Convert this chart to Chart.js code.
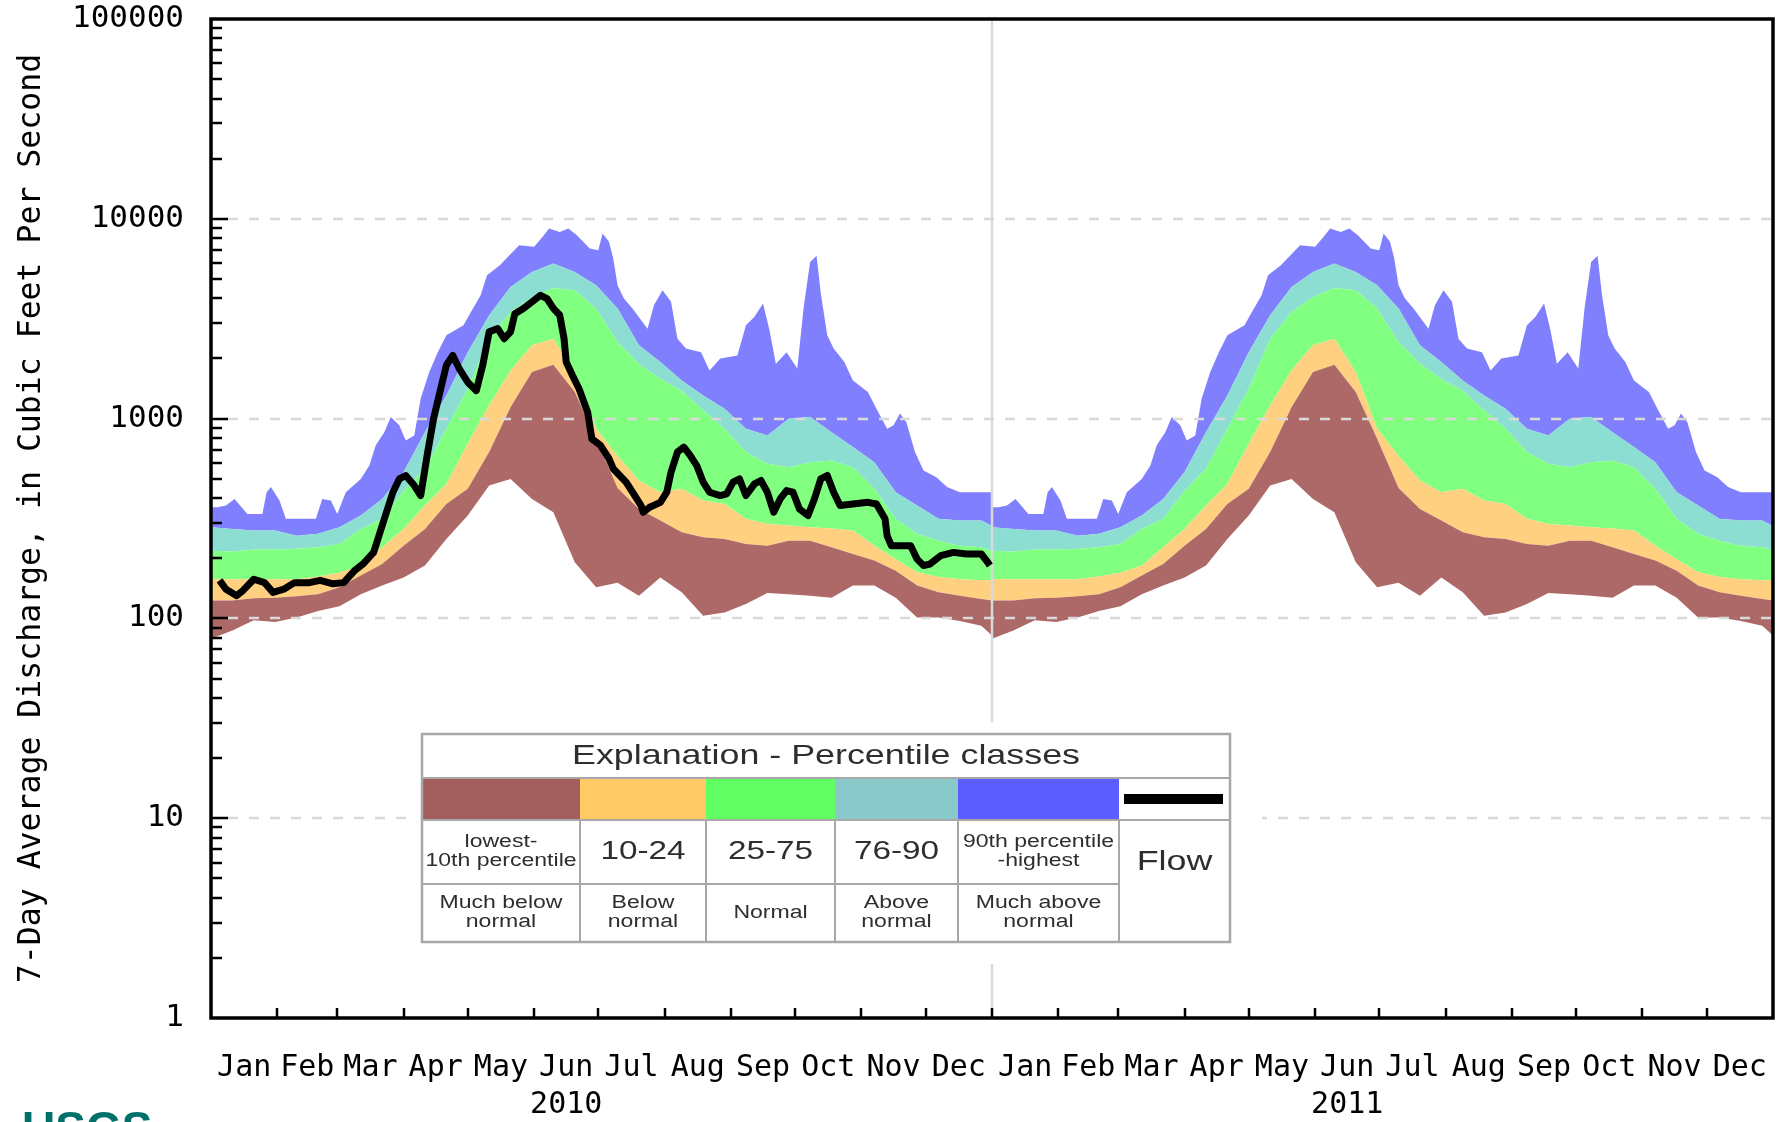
<!DOCTYPE html>
<html>
<head>
<meta charset="utf-8">
<title>7-Day Average Discharge</title>
<script src="https://cdn.jsdelivr.net/npm/chart.js@4.4.1/dist/chart.umd.min.js"></script>
<style>
html, body { margin: 0; padding: 0; background: #fff; }
#wrap { position: relative; width: 1783px; height: 1122px; }
</style>
</head>
<body>
<div id="wrap"><canvas id="myChart"></canvas></div>
<script>
// day of year for the percentile samples (same daily statistics repeat each year)
var bandDays = [0, 10, 20, 30, 40, 50, 60, 70, 80, 90, 100, 110, 120, 130, 140, 150, 160, 170, 180, 190,
    200, 210, 220, 230, 240, 250, 260, 270, 280, 290, 300, 310, 320, 330, 340, 350, 360, 365];
var minFlow = [79, 87, 98, 96, 101, 109, 115, 132, 146, 160, 184, 250, 327, 462, 499, 396, 340, 191, 143, 151,
    130, 160, 135, 103, 107, 118, 134, 132, 130, 127, 146, 146, 127, 101, 101, 97, 92, 82];
var p10 = [123, 123, 126, 127, 129, 132, 143, 164, 187, 231, 280, 374, 445, 680, 1140, 1710, 1860, 1360, 792, 450,
    353, 309, 270, 255, 250, 236, 231, 245, 245, 227, 210, 195, 173, 146, 135, 130, 125, 123];
var p25 = [157, 157, 157, 157, 157, 162, 169, 184, 227, 280, 367, 471, 748, 1165, 1740, 2330, 2510, 1710, 890, 650,
    490, 428, 445, 389, 374, 315, 297, 292, 286, 282, 275, 231, 198, 170, 161, 157, 155, 155];
var p75 = [218, 216, 221, 221, 223, 227, 236, 280, 315, 436, 561, 890, 1410, 2510, 3420, 4060, 4510, 4390, 3560, 2420,
    1880, 1580, 1380, 1100, 890, 680, 594, 571, 605, 617, 571, 445, 315, 265, 245, 231, 227, 218];
var p90 = [286, 280, 275, 275, 259, 265, 286, 327, 396, 540, 855, 1306, 2150, 3290, 4560, 5420, 5970, 5420, 4650, 3560,
    2330, 1920, 1550, 1306, 1120, 890, 824, 998, 1020, 855, 720, 605, 428, 367, 315, 309, 309, 290];
// the highest line is spiky, so it has its own finer day list
var maxDays = [0, 3, 7, 11, 17, 24, 26, 28, 32, 35, 42, 49, 52, 56, 59, 63, 70, 74, 77, 81,
    84, 88, 91, 95, 98, 102, 106, 110, 118, 121, 126, 129, 135, 138, 144, 151, 155, 158, 163, 167,
    171, 177, 181, 183, 186, 188, 190, 193, 197, 204, 207, 211, 215, 218, 222, 229, 233, 238, 246, 250,
    254, 258, 261, 264, 269, 274, 277, 280, 283, 285, 288, 291, 296, 300, 307, 311, 316, 319, 322, 325,
    329, 333, 339, 344, 350, 365];
var maxFlow = [360, 360, 367, 396, 333, 333, 428, 454, 389, 315, 315, 315, 396, 389, 333, 428, 499, 582, 735, 855,
    1020, 925, 778, 824, 1260, 1710, 2150, 2610, 2930, 3350, 4140, 5220, 5860, 6330, 7380, 7240, 8130, 8950, 8600, 8950,
    8280, 7100, 6960, 8440, 7680, 6330, 4650, 3990, 3560, 2820, 3690, 4390, 3840, 2510, 2240, 2150, 1740, 2000, 2070, 2930,
    3230, 3770, 2770, 1880, 2150, 1780, 3620, 6080, 6530, 4230, 2610, 2240, 1920, 1550, 1360, 1120, 890, 925, 1060, 960,
    680, 550, 509, 454, 428, 428];
// 2010 flow, days from Jan 1 2010
var flowDays = [4, 7, 12, 15, 20, 25, 29, 34, 39, 46, 51, 57, 62, 67, 71, 76, 79, 82, 85, 88,
    91, 95, 98, 101, 104, 107, 110, 113, 116, 120, 124, 127, 130, 134, 137, 140, 142, 146, 151, 154,
    157, 160, 163, 165, 166, 169, 172, 176, 178, 182, 186, 188, 191, 194, 197, 201, 202, 205, 210, 213,
    215, 218, 221, 224, 227, 230, 233, 238, 241, 244, 247, 250, 254, 257, 260, 263, 266, 269, 272, 275,
    279, 282, 285, 288, 291, 294, 300, 307, 311, 315, 316, 318, 322, 327, 330, 333, 336, 341, 347, 353,
    360, 363, 364];
var flowValues = [155, 140, 130, 138, 157, 151, 135, 140, 151, 151, 155, 149, 151, 173, 187, 214, 270, 340, 428, 499,
    519, 462, 412, 653, 998, 1360, 1850, 2070, 1780, 1520, 1380, 1850, 2720, 2820, 2510, 2720, 3350, 3560, 3910, 4140,
    3990, 3560, 3290, 2510, 1920, 1640, 1410, 1080, 792, 735, 630, 561, 519, 481, 428, 367, 340, 360, 381, 428,
    540, 680, 720, 653, 582, 481, 428, 412, 420, 481, 499, 412, 471, 490, 428, 340, 396, 436, 428, 353,
    327, 396, 499, 519, 428, 367, 374, 381, 374, 315, 259, 231, 231, 231, 198, 184, 187, 206, 214, 210,
    210, 191, 184];

var monthNames = ["Jan", "Feb", "Mar", "Apr", "May", "Jun", "Jul", "Aug", "Sep", "Oct", "Nov", "Dec"];
var yearLabels = ["2010", "2011"];
var monthStartDays = [0, 31, 59, 90, 120, 151, 181, 212, 243, 273, 304, 334,
    365, 396, 424, 455, 485, 516, 546, 577, 608, 638, 669, 699, 730];
var yTickValues = [1, 10, 100, 1000, 10000, 100000];
var yTickLabels = ["1", "10", "100", "1000", "10000", "100000"];
var yTitle = "7-Day Average Discharge, in Cubic Feet Per Second";

var bandColors = ["#ad6868", "#ffd080", "#80ff80", "#8cded2", "#8080ff"];
var legendColors = ["#a35e5e", "#ffc966", "#62ff62", "#8ac9c9", "#5c5cff"];
var legendTop = ["lowest-|10th percentile", "10-24", "25-75", "76-90", "90th percentile|-highest"];
var legendBottom = ["Much below|normal", "Below|normal", "Normal", "Above|normal", "Much above|normal"];

var monoFont = '"DejaVu Sans Mono", "Liberation Mono", monospace';
var sansFont = '"Liberation Sans", Arial, sans-serif';

function twoYears(days, values) {
    var pts = [];
    [0, 365].forEach(function (shift) {
        days.forEach(function (d, i) { pts.push({ x: d + shift, y: values[i] }); });
    });
    return pts;
}

var monthMids = [];
var xTickLabels = [];
for (var i = 0; i < 24; i++) {
    monthMids.push((monthStartDays[i] + monthStartDays[i + 1]) / 2);
    var name = monthNames[i % 12];
    xTickLabels.push(i % 12 === 5 ? [name, yearLabels[Math.floor(i / 12)]] : name);
}

function bandSet(values, color, fill, days) {
    return {
        data: twoYears(days || bandDays, values),
        backgroundColor: color,
        borderColor: "rgba(0,0,0,0)",
        borderWidth: 0,
        pointRadius: 0,
        fill: fill,
        tension: 0
    };
}

function stretchText(ctx, text, cx, cy, size, maxW) {
    ctx.save();
    ctx.translate(cx, cy);
    ctx.scale(1.28, 1);
    ctx.font = size + "px " + sansFont;
    ctx.textAlign = "center";
    ctx.textBaseline = "middle";
    ctx.fillText(text, 0, 0, maxW / 1.28);
    ctx.restore();
}

function drawLegend(ctx) {
    var cols = [422, 580, 706, 835, 958, 1119, 1230];
    var rows = [734, 778, 820, 884, 942];
    ctx.save();
    ctx.fillStyle = "#fff";
    ctx.fillRect(409, 722, 853, 242);
    for (var i = 0; i < 5; i++) {
        ctx.fillStyle = legendColors[i];
        ctx.fillRect(cols[i], rows[1], cols[i + 1] - cols[i], rows[2] - rows[1]);
    }
    ctx.strokeStyle = "#000";
    ctx.lineWidth = 10;
    ctx.beginPath();
    ctx.moveTo(1124, 799);
    ctx.lineTo(1223, 799);
    ctx.stroke();

    ctx.strokeStyle = "#a8a8a8";
    ctx.lineWidth = 2;
    ctx.beginPath();
    ctx.moveTo(cols[0], rows[1]); ctx.lineTo(cols[6], rows[1]);
    ctx.moveTo(cols[0], rows[2]); ctx.lineTo(cols[6], rows[2]);
    ctx.moveTo(cols[0], rows[3]); ctx.lineTo(cols[5], rows[3]);
    for (var c = 1; c < 6; c++) {
        ctx.moveTo(cols[c], rows[2]); ctx.lineTo(cols[c], rows[4]);
    }
    ctx.stroke();
    ctx.lineWidth = 2.5;
    ctx.strokeRect(cols[0], rows[0], cols[6] - cols[0], rows[4] - rows[0]);

    ctx.fillStyle = "#2e2e2e";
    stretchText(ctx, "Explanation - Percentile classes", 826, 756, 28, 760);
    for (var k = 0; k < 5; k++) {
        var cx = (cols[k] + cols[k + 1]) / 2;
        var w = cols[k + 1] - cols[k] - 4;
        var top = legendTop[k].split("|");
        if (top.length === 1) {
            stretchText(ctx, top[0], cx, 852, 26, w);
        } else {
            stretchText(ctx, top[0], cx, 842, 18, w);
            stretchText(ctx, top[1], cx, 861, 18, w);
        }
        var bot = legendBottom[k].split("|");
        if (bot.length === 1) {
            stretchText(ctx, bot[0], cx, 913, 18, w);
        } else {
            stretchText(ctx, bot[0], cx, 903, 18, w);
            stretchText(ctx, bot[1], cx, 922, 18, w);
        }
    }
    stretchText(ctx, "Flow", (cols[5] + cols[6]) / 2, 862, 28, 106);
    ctx.restore();
}

var overlay = {
    id: "overlay",
    beforeDatasetDraw: function (chart, args) {
        if (args.index !== 0) return;
        var ctx = chart.ctx, area = chart.chartArea;
        var xs = chart.scales.x, ys = chart.scales.y;
        ctx.save();
        ctx.strokeStyle = "#d9d9d9";
        ctx.lineWidth = 2.5;
        ctx.setLineDash([10, 11]);
        yTickValues.slice(1, -1).forEach(function (v) {
            var py = Math.round(ys.getPixelForValue(v));
            ctx.beginPath();
            ctx.moveTo(area.left + 17, py);
            ctx.lineTo(area.right, py);
            ctx.stroke();
        });
        ctx.setLineDash([]);
        var px = Math.round(xs.getPixelForValue(monthStartDays[12]));
        ctx.beginPath();
        ctx.moveTo(px, area.top);
        ctx.lineTo(px, area.bottom);
        ctx.stroke();
        ctx.restore();
    },
    afterDraw: function (chart) {
        var ctx = chart.ctx, area = chart.chartArea;
        var xs = chart.scales.x, ys = chart.scales.y;
        ctx.save();
        ctx.strokeStyle = "#000";
        ctx.lineWidth = 2.5;
        ctx.beginPath();
        // inward minor/major ticks on the value axis
        yTickValues.slice(0, -1).forEach(function (dec, j) {
            for (var m = 1; m < 10; m++) {
                if (m === 1 && j === 0) continue;
                var py = Math.round(ys.getPixelForValue(dec * m));
                ctx.moveTo(area.left, py);
                ctx.lineTo(area.left + (m === 1 ? 17 : 11), py);
            }
        });
        // inward month ticks
        monthStartDays.slice(1, -1).forEach(function (d) {
            var px = Math.round(xs.getPixelForValue(d));
            ctx.moveTo(px, area.bottom);
            ctx.lineTo(px, area.bottom - 10);
        });
        ctx.stroke();
        ctx.lineWidth = 3.5;
        ctx.strokeRect(area.left, area.top, area.right - area.left, area.bottom - area.top);

        ctx.fillStyle = "#000";
        ctx.font = "31.5px " + monoFont;
        ctx.textAlign = "center";
        ctx.textBaseline = "middle";
        ctx.translate(32, (area.top + area.bottom) / 2);
        ctx.rotate(-Math.PI / 2);
        ctx.fillText(yTitle, 0, 0);
        ctx.restore();

        drawLegend(ctx);

        ctx.save();
        ctx.fillStyle = "#00706b";
        ctx.font = "bold 46px " + sansFont;
        ctx.textAlign = "left";
        ctx.textBaseline = "alphabetic";
        ctx.fillText("USGS", 22, 1144);
        ctx.restore();
    }
};

var ctx = document.getElementById("myChart").getContext("2d");
var chart = new Chart(ctx, {
    type: "line",
    data: {
        datasets: [
            {
                data: flowDays.map(function (d, i) { return { x: d, y: flowValues[i] }; }),
                borderColor: "#000",
                borderWidth: 7,
                pointRadius: 0,
                fill: false,
                tension: 0,
                borderJoinStyle: "round"
            },
            bandSet(minFlow, "rgba(0,0,0,0)", false),
            bandSet(p10, bandColors[0], "-1"),
            bandSet(p25, bandColors[1], "-1"),
            bandSet(p75, bandColors[2], "-1"),
            bandSet(p90, bandColors[3], "-1"),
            bandSet(maxFlow, bandColors[4], "-1", maxDays)
        ]
    },
    options: {
        animation: false,
        responsive: true,
        maintainAspectRatio: false,
        layout: { padding: { left: 0, top: 19, right: 10, bottom: 0 } },
        plugins: {
            legend: { display: false },
            tooltip: { enabled: false },
            title: { display: false }
        },
        scales: {
            x: {
                type: "linear",
                min: 0,
                max: 730,
                grid: { display: false, drawTicks: false },
                border: { display: false },
                afterBuildTicks: function (scale) {
                    scale.ticks = monthMids.map(function (v) { return { value: v }; });
                },
                afterFit: function (scale) {
                    scale.height = 104;
                    scale.paddingLeft = 0;
                    scale.paddingRight = 0;
                },
                ticks: {
                    autoSkip: false,
                    maxRotation: 0,
                    minRotation: 0,
                    padding: 31,
                    color: "#000",
                    font: { family: monoFont, size: 30, lineHeight: 1.25 },
                    callback: function (value, index) { return xTickLabels[index]; }
                }
            },
            y: {
                type: "logarithmic",
                min: 1,
                max: 100000,
                grid: { display: false, drawTicks: false },
                border: { display: false },
                afterBuildTicks: function (scale) {
                    scale.ticks = yTickValues.map(function (v) { return { value: v }; });
                },
                afterFit: function (scale) {
                    scale.width = 211;
                    scale.paddingTop = 0;
                    scale.paddingBottom = 0;
                },
                ticks: {
                    padding: 27,
                    color: "#000",
                    font: { family: monoFont, size: 31, lineHeight: 1 },
                    callback: function (value, index) { return yTickLabels[index]; }
                }
            }
        }
    },
    plugins: [overlay]
});
</script>
</body>
</html>
